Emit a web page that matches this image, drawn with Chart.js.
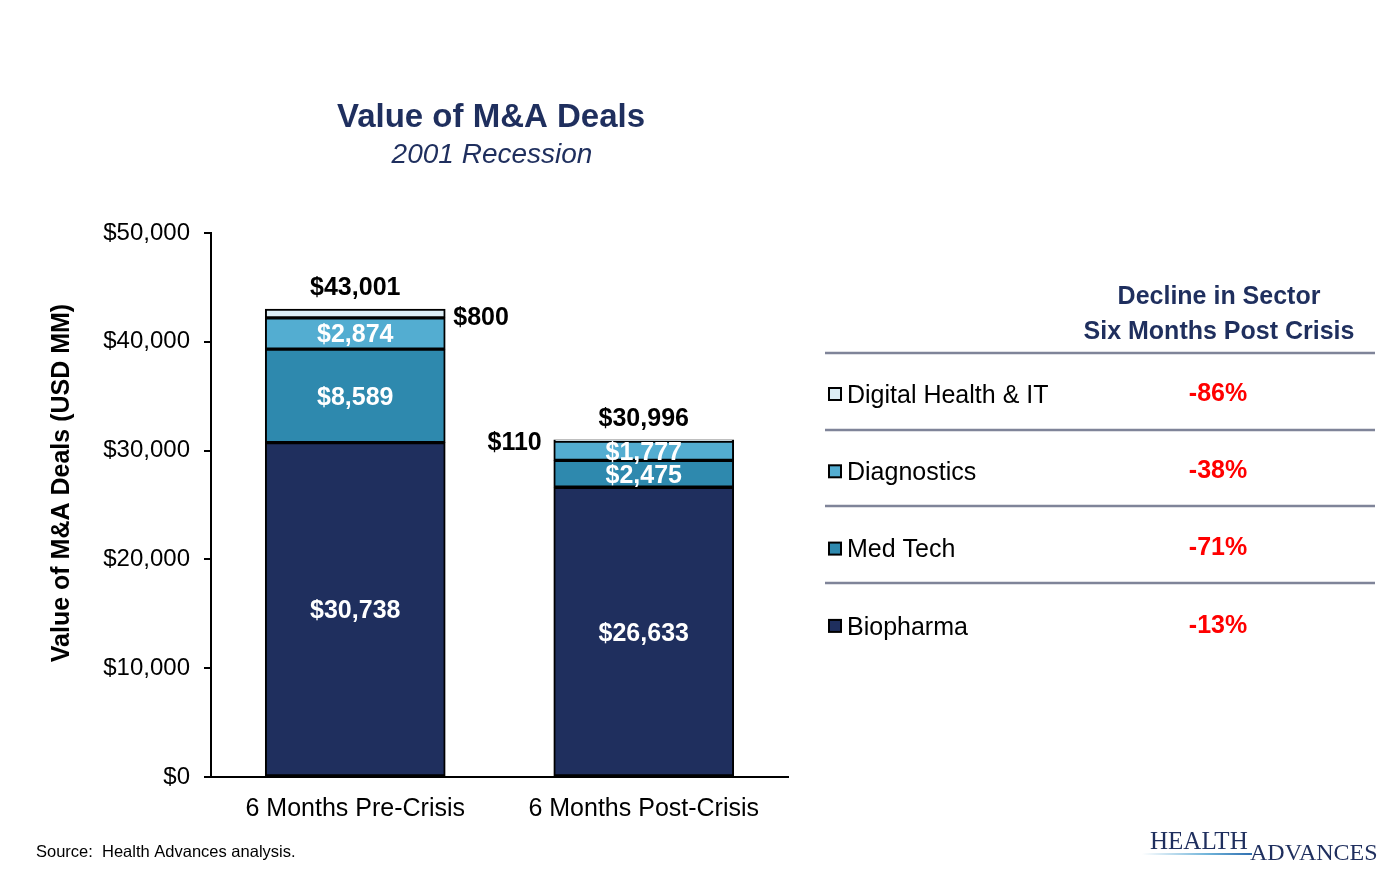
<!DOCTYPE html>
<html>
<head>
<meta charset="utf-8">
<script src="https://cdn.jsdelivr.net/npm/chart.js@4.4.1/dist/chart.umd.min.js"></script>
<style>
  body { margin: 0; background: #fff; }
  #dealsCanvas { display: block; }
</style>
</head>
<body>
<canvas id="dealsCanvas" width="1377" height="871"></canvas>
<script>
// values (USD MM)
var categories = ['6 Months Pre-Crisis', '6 Months Post-Crisis'];
var biopharma = [30738, 26633];
var medTech = [8589, 2475];
var diagnostics = [2874, 1777];
var digitalHealth = [800, 110];
var totals = [43001, 30996];
var sectorNames = ['Digital Health & IT', 'Diagnostics', 'Med Tech', 'Biopharma'];
var sectorDeclines = ['-86%', '-38%', '-71%', '-13%'];
var yMax = 50000;
var yStep = 10000;

var NAVY = '#1F2F5E';
var FONT = '"Liberation Sans", Arial, sans-serif';

function money(v) {
    return '$' + v.toLocaleString('en-US');
}

var sectorColors = {
    'Biopharma': '#1F2F5E',
    'Med Tech': '#2E89AE',
    'Diagnostics': '#53ADD1',
    'Digital Health & IT': '#DDEEF6'
};

function makeDs(label, data) {
    return {
        label: label,
        data: data,
        backgroundColor: sectorColors[label],
        borderColor: '#000',
        borderWidth: 2,
        borderSkipped: false,
        barThickness: 180
    };
}

// segment + total labels
var labelPlugin = {
    id: 'segLabels',
    afterDatasetsDraw: function(chart) {
        var ctx = chart.ctx;
        ctx.save();
        ctx.textBaseline = 'middle';
        var n = chart.data.datasets.length;
        chart.data.datasets.forEach(function(ds, di) {
            var meta = chart.getDatasetMeta(di);
            meta.data.forEach(function(bar, i) {
                var cy = (bar.y + bar.base) / 2;
                var half = bar.width / 2;
                ctx.font = 'bold 25px ' + FONT;
                if (di === n - 1) {
                    // thin top slice: label sits outside the bar
                    ctx.fillStyle = '#000';
                    if (i === 0) {
                        ctx.textAlign = 'left';
                        ctx.fillText(money(ds.data[i]), bar.x + half + 8, cy + 5);
                    } else {
                        ctx.textAlign = 'right';
                        ctx.fillText(money(ds.data[i]), bar.x - half - 12, cy + 3);
                    }
                    ctx.textAlign = 'center';
                    ctx.fillText(money(totals[i]), bar.x, bar.y - 21);
                } else {
                    ctx.fillStyle = '#fff';
                    ctx.textAlign = 'center';
                    ctx.fillText(money(ds.data[i]), bar.x, cy + 2);
                }
            });
        });
        ctx.restore();
    }
};

// titles, side table, source, logo
var extrasPlugin = {
    id: 'extras',
    afterDraw: function(chart) {
        var ctx = chart.ctx;
        ctx.save();
        ctx.textBaseline = 'middle';
        ctx.textAlign = 'center';

        ctx.fillStyle = NAVY;
        ctx.font = 'bold 33px ' + FONT;
        ctx.fillText('Value of M&A Deals', 491, 118);
        ctx.font = 'italic 28px ' + FONT;
        ctx.fillText('2001 Recession', 492, 155);

        // y axis title
        ctx.save();
        ctx.translate(62, 483);
        ctx.rotate(-Math.PI / 2);
        ctx.fillStyle = '#000';
        ctx.font = 'bold 25px ' + FONT;
        ctx.fillText('Value of M&A Deals (USD MM)', 0, 0);
        ctx.restore();

        // table header
        ctx.fillStyle = NAVY;
        ctx.font = 'bold 25px ' + FONT;
        ctx.fillText('Decline in Sector', 1219, 297);
        ctx.fillText('Six Months Post Crisis', 1219, 332);

        var lineYs = [353, 430, 506, 583];
        ctx.strokeStyle = '#7F8499';
        ctx.lineWidth = 2.5;
        lineYs.forEach(function(y) {
            ctx.beginPath();
            ctx.moveTo(825, y);
            ctx.lineTo(1375, y);
            ctx.stroke();
        });

        sectorNames.forEach(function(name, i) {
            var y = 394 + i * 77.3;
            ctx.fillStyle = sectorColors[name];
            ctx.fillRect(829, y - 6, 12, 12);
            ctx.strokeStyle = '#000';
            ctx.lineWidth = 2;
            ctx.strokeRect(829, y - 6, 12, 12);
            ctx.fillStyle = '#000';
            ctx.font = '25px ' + FONT;
            ctx.textAlign = 'left';
            ctx.fillText(name, 847, y + 2);
            ctx.fillStyle = '#FF0000';
            ctx.font = 'bold 25px ' + FONT;
            ctx.textAlign = 'center';
            ctx.fillText(sectorDeclines[i], 1218, y);
        });

        // source
        ctx.fillStyle = '#000';
        ctx.font = '16.5px ' + FONT;
        ctx.textAlign = 'left';
        ctx.fillText('Source:  Health Advances analysis.', 36, 852);

        // logo
        var grad = ctx.createLinearGradient(1142, 0, 1252, 0);
        grad.addColorStop(0, '#FFFFFF');
        grad.addColorStop(0.6, '#6FB3D9');
        grad.addColorStop(1, '#2F6FB0');
        ctx.fillStyle = grad;
        ctx.fillRect(1142, 853, 110, 2);
        ctx.fillStyle = NAVY;
        ctx.font = '25px "Liberation Serif", "Times New Roman", serif';
        ctx.fillText('HEALTH', 1150, 842);
        ctx.font = '24px "Liberation Serif", "Times New Roman", serif';
        ctx.fillText('ADVANCES', 1250, 854);

        ctx.restore();
    }
};

var config = {
    type: 'bar',
    data: {
        labels: categories,
        datasets: [
            makeDs('Biopharma', biopharma),
            makeDs('Med Tech', medTech),
            makeDs('Diagnostics', diagnostics),
            makeDs('Digital Health & IT', digitalHealth)
        ]
    },
    options: {
        responsive: false,
        animation: false,
        layout: { padding: { left: 0, right: 589, top: 233, bottom: 54 } },
        plugins: {
            legend: { display: false },
            tooltip: { enabled: false },
            title: { display: false }
        },
        scales: {
            x: {
                stacked: true,
                grid: { display: false, drawTicks: false },
                border: { display: true, color: '#000', width: 2 },
                ticks: { color: '#000', font: { family: FONT, size: 25 }, padding: 17 },
                afterFit: function(scale) { scale.height = 40; }
            },
            y: {
                stacked: true,
                min: 0,
                max: yMax,
                grid: { display: true, drawOnChartArea: false, drawTicks: true, tickLength: 7, color: '#000', lineWidth: 2 },
                border: { display: true, color: '#000', width: 2 },
                ticks: {
                    stepSize: yStep,
                    color: '#000',
                    padding: 14,
                    font: { family: FONT, size: 24 },
                    callback: function(v) { return money(v); }
                },
                afterFit: function(scale) { scale.width = 211; }
            }
        }
    },
    plugins: [labelPlugin, extrasPlugin]
};

var dealsCtx = document.getElementById('dealsCanvas').getContext('2d');
var dealsChart = new Chart(dealsCtx, config);
</script>
</body>
</html>
